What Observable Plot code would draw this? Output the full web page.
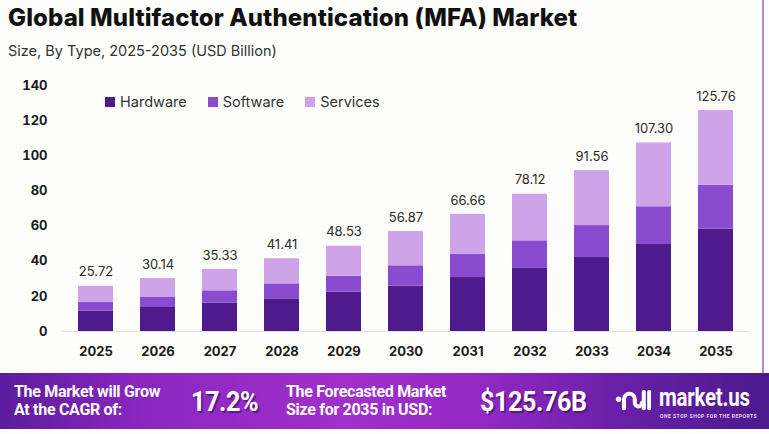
<!DOCTYPE html>
<html>
<head>
<meta charset="utf-8">
<script src="https://cdn.jsdelivr.net/npm/d3@7"></script>
<script src="https://cdn.jsdelivr.net/npm/@observablehq/plot@0.6"></script>
<style>
  html, body { margin: 0; padding: 0; background: #ffffff; }
  #page { position: relative; width: 769px; height: 434px; overflow: hidden; background: #fdfdfb; font-family: Inter, "Noto Sans", sans-serif; }
  #edge { position: absolute; left: 762px; top: 0; width: 2px; height: 373px; background: #b98ae0; }
  #rightpad { position: absolute; left: 764px; top: 0; width: 5px; height: 373px; background: #ffffff; }
  #title { position: absolute; left: 8px; top: 3px; font-size: 24px; font-weight: 800; color: #111; letter-spacing: 0.1px; white-space: nowrap; }
  #subtitle { position: absolute; left: 8px; top: 42px; font-size: 14.5px; color: #333; white-space: nowrap; }
  #chart { position: absolute; left: 0; top: 70px; }
  #legend { position: absolute; left: 105px; top: 93px; display: flex; font-size: 14.5px; color: #333; }
  .item { display: flex; align-items: center; margin-right: 21px; }
  .sw { width: 10px; height: 10px; margin-right: 5px; }
  #banner { position: absolute; left: 0; top: 373px; width: 769px; height: 56px;
    background: linear-gradient(90deg, #5b1c9c 0%, #8a26bf 18%, #a12fcc 45%, #9429c4 62%, #6a20a8 80%, #4a1a8e 100%); color: #fff; }
  .b { position: absolute; font-family: Roboto, sans-serif; font-weight: 700; white-space: nowrap; transform-origin: 0 0; }
  .small { font-size: 16px; line-height: 18px; letter-spacing: -0.3px; }
  .big { font-size: 28px; letter-spacing: -0.5px; transform: scaleX(0.9); text-shadow: 2px 2px 0 rgba(60,10,90,0.6); }
  #below { position: absolute; left: 0; top: 429px; width: 769px; height: 5px; background: #fdfdfb; }
</style>
</head>
<body>
<div id="page">
  <div id="title">Global Multifactor Authentication (MFA) Market</div>
  <div id="subtitle">Size, By Type, 2025-2035 (USD Billion)</div>
  <div id="chart"></div>
  <div id="legend"></div>
  <div id="rightpad"></div>
  <div id="edge"></div>
  <div id="banner">
    <div class="b small" style="left:14px; top:10px;">The Market will Grow<br>At the CAGR of:</div>
    <div class="b big" style="left:191px; top:12px;">17.2%</div>
    <div class="b small" style="left:286px; top:10px;">The Forecasted Market<br>Size for 2035 in USD:</div>
    <div class="b big" style="left:480px; top:12px;">$125.76B</div>
    <svg style="position:absolute; left:615px; top:13px;" width="36" height="30" viewBox="0 0 40 32">
      <circle cx="4" cy="14" r="3" fill="#fff"/>
      <path d="M10 24 V14 a6 6 0 0 1 12 0 v4 a4 4 0 0 0 8 0" fill="none" stroke="#fff" stroke-width="4.5" stroke-linecap="round"/>
      <path d="M32 6 V24" stroke="#fff" stroke-width="4.5" stroke-linecap="round"/>
      <path d="M38 6 V24" stroke="#fff" stroke-width="4.5" stroke-linecap="round"/>
    </svg>
    <div class="b" style="left:659px; top:10px; font-size:25px; letter-spacing:-0.3px; transform: scaleX(0.82);">market.us</div>
    <div class="b" style="left:660px; top:40px; font-size:5px; letter-spacing:0.5px; color:#e9d6f6;">ONE STOP SHOP FOR THE REPORTS</div>
  </div>
  <div id="below"></div>
</div>
<script>
// Market size by type, USD billion
const years = ["2025", "2026", "2027", "2028", "2029", "2030", "2031", "2032", "2033", "2034", "2035"];
const hardware = [11.55, 13.66, 16.10, 18.60, 22.40, 25.80, 30.70, 35.90, 42.10, 49.50, 58.20];
const software = [5.13, 5.69, 7.05, 8.50, 9.10, 11.60, 13.30, 15.70, 18.20, 21.50, 25.10];
const services = [9.04, 10.79, 12.18, 14.31, 17.03, 19.47, 22.66, 26.52, 31.26, 36.30, 42.46];
const totals = [25.72, 30.14, 35.33, 41.41, 48.53, 56.87, 66.66, 78.12, 91.56, 107.30, 125.76];
const yTicks = [0, 20, 40, 60, 80, 100, 120, 140];

const types = ["Hardware", "Software", "Services"];
const colors = ["#4f1a8c", "#8a4ccf", "#cfa3e8"];
const seriesByType = {Hardware: hardware, Software: software, Services: services};

const rows = types.flatMap(type => years.map((year, i) => ({year, type, value: seriesByType[type][i]})));
const labelRows = years.map((year, i) => ({year, total: totals[i]}));

const chart = Plot.plot({
  width: 769,
  height: 300,
  marginTop: 15,
  marginBottom: 39,
  marginLeft: 62,
  marginRight: 21,
  style: {background: "transparent", fontFamily: "Inter, 'Noto Sans', sans-serif"},
  x: {domain: years, paddingInner: 0.44, paddingOuter: 0.22, label: null},
  y: {domain: [0, 140], label: null},
  color: {domain: types, range: colors},
  marks: [
    Plot.axisY({ticks: yTicks, tickSize: 0, tickPadding: 15, fontSize: 13, fontWeight: 700, color: "#1a1a1a", tickFormat: d => String(d)}),
    Plot.axisX({tickSize: 0, tickPadding: 15, fontSize: 13, fontWeight: 700, color: "#1a1a1a"}),
    Plot.ruleY([0], {stroke: "#e2e2e2", strokeWidth: 1}),
    Plot.barY(rows, {x: "year", y: "value", fill: "type", order: types}),
    Plot.text(labelRows, {x: "year", y: "total", text: d => d.total.toFixed(2), dy: -14, fontSize: 13, fill: "#2a2a2a"})
  ]
});
document.getElementById("chart").appendChild(chart);

// Legend entries
const legend = document.getElementById("legend");
types.forEach((t, i) => {
  const item = document.createElement("div");
  item.className = "item";
  item.innerHTML = `<span class="sw" style="background:${colors[i]}"></span><span>${t}</span>`;
  legend.appendChild(item);
});
</script>
</body>
</html>
